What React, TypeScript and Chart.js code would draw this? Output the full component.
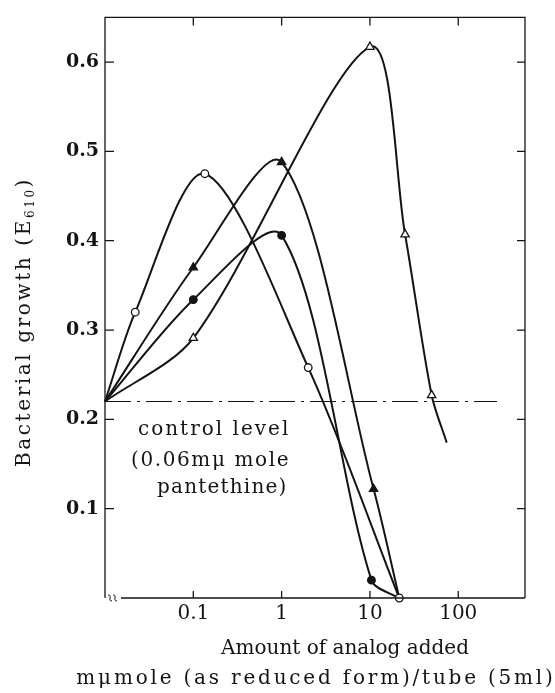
import React, { useEffect, useRef } from "react";
import { Chart, registerables } from "chart.js";

Chart.register(...registerables);

// ---- data ----
const xTickValues = [0.1, 1, 10, 100];
const yTickValues = [0.1, 0.2, 0.3, 0.4, 0.5, 0.6];
const noAnalogX = 0.01; // "no analog" point, plotted at the axis break
const controlLevel = 0.22;
const controlLineEndX = 275;

// open circles
const openCircleX = [0.022, 0.135, 2, 21.5];
const openCircleY = [0.32, 0.475, 0.258, 0.0];
// filled triangles
const filledTriangleX = [0.1, 1, 11];
const filledTriangleY = [0.37, 0.488, 0.122];
const filledTriangleEnd = [21.5, 0.0];
// filled circles
const filledCircleX = [0.1, 1, 10.4];
const filledCircleY = [0.334, 0.406, 0.02];
const filledCircleEnd = [21, 0.0];
// open triangles
const openTriangleX = [0.1, 10, 25, 50];
const openTriangleY = [0.291, 0.617, 0.407, 0.227];
const openTriangleEnd = [74, 0.174];

const SERIF = '"DejaVu Serif", serif';
const INK = "#141414";

function buildSeries(xs: number[], ys: number[], end?: number[]) {
  const data = [{ x: noAnalogX, y: controlLevel }];
  const radius = [0];
  xs.forEach((x, i) => {
    data.push({ x, y: ys[i] });
    radius.push(1);
  });
  if (end) {
    data.push({ x: end[0], y: end[1] });
    radius.push(0);
  }
  return { data, radius };
}

function lineDataset(
  xs: number[],
  ys: number[],
  end: number[] | undefined,
  style: string,
  filled: boolean,
  r: number
) {
  const s = buildSeries(xs, ys, end);
  return {
    data: s.data,
    borderColor: INK,
    borderWidth: 2,
    pointStyle: style,
    pointRadius: s.radius.map((v) => v * r),
    pointBackgroundColor: filled ? INK : "#ffffff",
    pointBorderColor: INK,
    pointBorderWidth: 1.3,
    cubicInterpolationMode: "default",
    tension: 0.3,
    clip: false,
    fill: false,
  };
}

const decorPlugin = {
  id: "decor",
  afterDraw(chart: any) {
    const { ctx, chartArea: a, scales } = chart;
    const xs = scales.x;
    const ys = scales.y;
    ctx.save();
    ctx.strokeStyle = INK;
    ctx.lineWidth = 1.3;
    ctx.beginPath();
    // frame
    ctx.moveTo(a.left, a.bottom);
    ctx.lineTo(a.left, a.top);
    ctx.lineTo(a.right, a.top);
    ctx.lineTo(a.right, a.bottom);
    ctx.moveTo(a.left + 16, a.bottom);
    ctx.lineTo(a.right, a.bottom);
    // inward ticks
    xTickValues.forEach((v) => {
      const px = xs.getPixelForValue(v);
      ctx.moveTo(px, a.bottom);
      ctx.lineTo(px, a.bottom - 7);
      ctx.moveTo(px, a.top);
      ctx.lineTo(px, a.top + 8);
    });
    yTickValues.forEach((v) => {
      const py = ys.getPixelForValue(v);
      ctx.moveTo(a.left, py);
      ctx.lineTo(a.left + 9, py);
      ctx.moveTo(a.right, py);
      ctx.lineTo(a.right - 8, py);
    });
    ctx.stroke();

    // axis break marks
    ctx.lineWidth = 1;
    [a.left + 5, a.left + 10].forEach((bx) => {
      ctx.beginPath();
      ctx.moveTo(bx - 2, a.bottom - 3);
      ctx.bezierCurveTo(bx + 3, a.bottom - 3, bx - 3, a.bottom + 3, bx + 2, a.bottom + 3);
      ctx.stroke();
    });

    // control level text
    ctx.fillStyle = INK;
    ctx.font = `20px ${SERIF}`;
    ctx.textAlign = "left";
    ctx.textBaseline = "middle";
    (ctx as any).letterSpacing = "2px";
    ctx.fillText("control level", 138, 430);
    (ctx as any).letterSpacing = "1.6px";
    ctx.fillText("(0.06m\u03bc mole", 131, 461);
    (ctx as any).letterSpacing = "1.2px";
    ctx.fillText("pantethine)", 157, 488);

    // x axis title
    ctx.textAlign = "center";
    (ctx as any).letterSpacing = "0px";
    ctx.fillText("Amount of analog added", 345, 649);
    (ctx as any).letterSpacing = "2.8px";
    ctx.fillText("m\u03bcmole (as reduced form)/tube (5ml)", 316, 679);

    // y axis title (rotated, with subscript)
    ctx.save();
    ctx.translate(25, 322);
    ctx.rotate(-Math.PI / 2);
    (ctx as any).letterSpacing = "2.6px";
    const main = "Bacterial growth (E";
    const sub = "610";
    const close = ")";
    ctx.font = `20px ${SERIF}`;
    const wMain = ctx.measureText(main).width;
    ctx.font = `12px ${SERIF}`;
    const wSub = ctx.measureText(sub).width;
    ctx.font = `20px ${SERIF}`;
    const wClose = ctx.measureText(close).width;
    const total = wMain + wSub + wClose;
    let x0 = -total / 2;
    ctx.textAlign = "left";
    ctx.fillText(main, x0, 0);
    x0 += wMain;
    ctx.font = `12px ${SERIF}`;
    ctx.fillText(sub, x0, 6);
    x0 += wSub;
    ctx.font = `20px ${SERIF}`;
    ctx.fillText(close, x0, 0);
    ctx.restore();

    ctx.restore();
  },
};

export default function App() {
  const ref = useRef<HTMLCanvasElement | null>(null);

  useEffect(() => {
    if (!ref.current) return;
    const chart = new Chart(ref.current, {
      type: "line",
      data: {
        datasets: [
          lineDataset(openCircleX, openCircleY, undefined, "circle", false, 3.8),
          lineDataset(filledTriangleX, filledTriangleY, filledTriangleEnd, "triangle", true, 4.8),
          lineDataset(filledCircleX, filledCircleY, filledCircleEnd, "circle", true, 3.8),
          lineDataset(openTriangleX, openTriangleY, openTriangleEnd, "triangle", false, 4.8),
          {
            data: [
              { x: noAnalogX, y: controlLevel },
              { x: controlLineEndX, y: controlLevel },
            ],
            borderColor: INK,
            borderWidth: 1.2,
            borderDash: [26, 6, 3, 6],
            pointRadius: 0,
            tension: 0,
            clip: false,
            fill: false,
          },
        ] as any,
      },
      options: {
        animation: false,
        responsive: true,
        maintainAspectRatio: false,
        devicePixelRatio: 1,
        layout: { padding: { top: 15, right: 30, left: 0, bottom: 0 } },
        plugins: {
          legend: { display: false },
          tooltip: { enabled: false },
          title: { display: false },
        },
        scales: {
          x: {
            type: "logarithmic",
            min: 0.01,
            max: 570,
            grid: { display: false, drawTicks: false },
            border: { display: false },
            afterBuildTicks: (axis: any) => {
              axis.ticks = xTickValues.map((value) => ({ value }));
            },
            afterFit: (scale: any) => {
              scale.height = 95;
            },
            ticks: {
              autoSkip: false,
              maxRotation: 0,
              padding: 4,
              color: INK,
              font: { family: SERIF, size: 20 },
              callback: (v: any) => String(v),
            },
          },
          y: {
            type: "linear",
            min: 0,
            max: 0.65,
            grid: { display: false, drawTicks: false },
            border: { display: false },
            afterBuildTicks: (axis: any) => {
              axis.ticks = yTickValues.map((value) => ({ value }));
            },
            afterFit: (scale: any) => {
              scale.width = 105;
            },
            ticks: {
              padding: 6,
              color: INK,
              font: { family: SERIF, size: 19, weight: "bold" },
              callback: (v: any) => Number(v).toFixed(1),
            },
          },
        },
      },
      plugins: [decorPlugin],
    });
    return () => chart.destroy();
  }, []);

  return (
    <div style={{ position: "absolute", left: 0, top: 0, width: 555, height: 693, background: "#fff" }}>
      <canvas ref={ref} />
    </div>
  );
}
